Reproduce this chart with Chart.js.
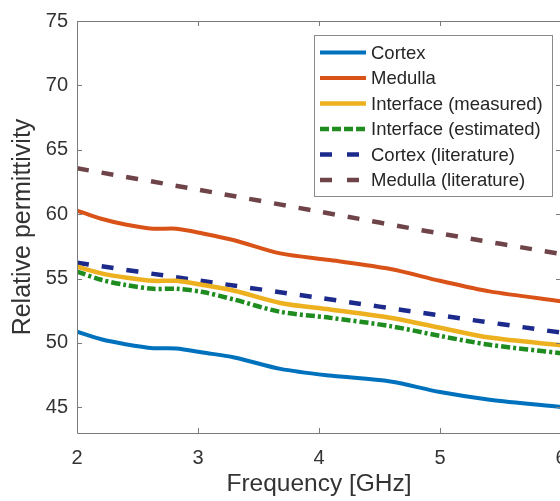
<!DOCTYPE html>
<html lang="en">
<head>
    <meta charset="UTF-8">
    <title>Relative permittivity</title>
    <style>
        body {
            margin: 0;
            overflow: hidden;
            background: #fff;
            font-family: "Liberation Sans", Arial, sans-serif;
        }
        .wrap {
            position: absolute;
            left: 0;
            top: 0;
            width: 600px;
            height: 520px;
        }
    </style>
    <script src="https://cdn.jsdelivr.net/npm/chart.js"></script>
</head>
<body>
    <div class="wrap">
        <canvas id="chart" width="600" height="520"></canvas>
    </div>
    <script>
        // measured data (GHz)
        const freqs = [2.0, 2.2, 2.4, 2.63, 2.82, 3.04, 3.3, 3.68, 4.09, 4.59, 5.0, 5.41, 6.0];
        const cortex = [50.87, 50.28, 49.9, 49.59, 49.56, 49.25, 48.87, 47.98, 47.46, 47.0, 46.18, 45.59, 45.02];
        const medulla = [60.28, 59.64, 59.2, 58.87, 58.87, 58.5, 57.97, 56.95, 56.43, 55.74, 54.82, 54.0, 53.23];
        const interfaceMeasured = [55.92, 55.4, 55.08, 54.82, 54.82, 54.5, 54.05, 53.1, 52.59, 51.95, 51.18, 50.41, 49.82];
        const interfaceEstimated = [55.54, 54.9, 54.5, 54.2, 54.2, 53.95, 53.36, 52.41, 51.95, 51.3, 50.54, 49.85, 49.2];

        // literature values
        const litFreqs = [2, 3, 4, 5, 6];
        const cortexLit = [56.23, 54.85, 53.5, 52.13, 50.8];
        const medullaLit = [63.56, 61.9, 60.2, 58.5, 56.9];

        const xTicks = [2, 3, 4, 5, 6];
        const yTicks = [45, 50, 55, 60, 65, 70, 75];

        const FONT = '"Liberation Sans", Arial, sans-serif';
        const AXIS_COLOR = '#7a7a7a';
        const TEXT_COLOR = '#333333';

        function pts(xs, ys) {
            return xs.map((x, i) => ({ x: x, y: ys[i] }));
        }

        // box + inward ticks, matlab style
        const framePlugin = {
            id: 'frame',
            afterDatasetsDraw(chart) {
                const ctx = chart.ctx;
                const a = chart.chartArea;
                const xs = chart.scales.x, ys = chart.scales.y;
                const len = 5;
                ctx.save();
                ctx.strokeStyle = AXIS_COLOR;
                ctx.lineWidth = 1;
                ctx.beginPath();
                ctx.rect(Math.round(a.left) + 0.5, Math.round(a.top) + 0.5, Math.round(a.right - a.left), Math.round(a.bottom - a.top));
                xTicks.forEach(v => {
                    const px = Math.round(xs.getPixelForValue(v)) + 0.5;
                    ctx.moveTo(px, a.bottom);
                    ctx.lineTo(px, a.bottom - len);
                    ctx.moveTo(px, a.top);
                    ctx.lineTo(px, a.top + len);
                });
                yTicks.forEach(v => {
                    const py = Math.round(ys.getPixelForValue(v)) + 0.5;
                    ctx.moveTo(a.left, py);
                    ctx.lineTo(a.left + len, py);
                    ctx.moveTo(a.right, py);
                    ctx.lineTo(a.right - len, py);
                });
                ctx.stroke();
                ctx.restore();
            }
        };

        // legend box inside the plot, top right
        const legendPlugin = {
            id: 'boxLegend',
            afterDraw(chart) {
                const ctx = chart.ctx;
                const box = { x: 314, y: 35, w: 238, h: 161 };
                const rowY = 52.5, rowH = 25.5;
                ctx.save();
                ctx.fillStyle = '#fff';
                ctx.fillRect(box.x, box.y, box.w, box.h);
                ctx.strokeStyle = '#8a8a8a';
                ctx.lineWidth = 1;
                ctx.strokeRect(box.x + 0.5, box.y + 0.5, box.w, box.h);
                ctx.font = '18.5px ' + FONT;
                ctx.textBaseline = 'middle';
                ctx.fillStyle = '#262626';
                chart.data.datasets.forEach((ds, i) => {
                    const y = rowY + i * rowH;
                    ctx.beginPath();
                    ctx.strokeStyle = ds.borderColor;
                    ctx.lineWidth = ds.borderWidth;
                    ctx.setLineDash(ds.legendDash || ds.borderDash || []);
                    ctx.moveTo(320, y);
                    ctx.lineTo(366, y);
                    ctx.stroke();
                    ctx.setLineDash([]);
                    ctx.fillText(ds.label, 371, y + 1);
                });
                ctx.restore();
            }
        };

        const datasets = [
            { label: 'Cortex', data: pts(freqs, cortex), borderColor: '#0072BD', borderWidth: 4 },
            { label: 'Medulla', data: pts(freqs, medulla), borderColor: '#D95319', borderWidth: 4 },
            { label: 'Interface (measured)', data: pts(freqs, interfaceMeasured), borderColor: '#EDB120', borderWidth: 4.5 },
            { label: 'Interface (estimated)', data: pts(freqs, interfaceEstimated), borderColor: '#1E8C1E', borderWidth: 4.5, borderDash: [9, 3, 3, 3], legendDash: [9, 3] },
            { label: 'Cortex (literature)', data: pts(litFreqs, cortexLit), borderColor: '#1C2A8C', borderWidth: 4.5, borderDash: [12, 13], legendDash: [12, 15] },
            { label: 'Medulla (literature)', data: pts(litFreqs, medullaLit), borderColor: '#6E4448', borderWidth: 4.5, borderDash: [12, 13], legendDash: [12, 15] }
        ];
        datasets.forEach(ds => {
            ds.pointRadius = 0;
            ds.fill = false;
            ds.tension = 0.3;
            ds.borderCapStyle = 'butt';
        });

        new Chart(document.getElementById('chart'), {
            type: 'line',
            data: { datasets: datasets },
            options: {
                responsive: false,
                animation: false,
                devicePixelRatio: 1,
                layout: { padding: { top: 19, right: 39, left: 0, bottom: 0 } },
                plugins: {
                    legend: { display: false },
                    tooltip: { enabled: false }
                },
                scales: {
                    x: {
                        type: 'linear',
                        min: 2,
                        max: 6,
                        afterBuildTicks: s => { s.ticks = xTicks.map(v => ({ value: v })); },
                        afterFit: s => { s.height = 87; },
                        grid: { display: false, drawTicks: false },
                        border: { display: false },
                        ticks: {
                            padding: 13,
                            maxRotation: 0,
                            color: TEXT_COLOR,
                            font: { family: FONT, size: 20 }
                        },
                        title: {
                            display: true,
                            text: 'Frequency [GHz]',
                            color: TEXT_COLOR,
                            font: { family: FONT, size: 24.5 },
                            padding: { top: 0, bottom: 21 }
                        }
                    },
                    y: {
                        type: 'linear',
                        min: 43,
                        max: 75,
                        afterBuildTicks: s => { s.ticks = yTicks.map(v => ({ value: v })); },
                        afterFit: s => { s.width = 77; },
                        grid: { display: false, drawTicks: false },
                        border: { display: false },
                        ticks: {
                            padding: 9,
                            color: TEXT_COLOR,
                            font: { family: FONT, size: 20 }
                        },
                        title: {
                            display: true,
                            text: 'Relative permittivity',
                            color: TEXT_COLOR,
                            font: { family: FONT, size: 25 },
                            padding: { top: 8, bottom: 0 }
                        }
                    }
                }
            },
            plugins: [framePlugin, legendPlugin]
        });
    </script>
</body>
</html>
